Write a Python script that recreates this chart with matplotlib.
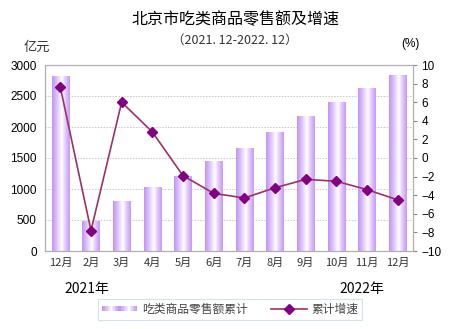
import numpy as np
import matplotlib
matplotlib.use("Agg")
import matplotlib.pyplot as plt
from matplotlib.colors import LinearSegmentedColormap
from matplotlib.patches import Rectangle
from matplotlib.lines import Line2D
from matplotlib.legend_handler import HandlerBase

plt.rcParams['font.family'] = ['Noto Sans CJK SC', 'DejaVu Sans']

categories = ["12月", "2月", "3月", "4月", "5月", "6月", "7月", "8月", "9月", "10月", "11月", "12月"]
sales = [2815, 475, 795, 1020, 1200, 1440, 1655, 1905, 2165, 2400, 2615, 2828]
growth = [7.6, -7.8, 6.0, 2.8, -1.9, -3.8, -4.3, -3.2, -2.3, -2.5, -3.4, -4.5]
left_ticks = [0, 500, 1000, 1500, 2000, 2500, 3000]
right_ticks = [-10, -8, -6, -4, -2, 0, 2, 4, 6, 8, 10]

W, H = 470, 329
fig = plt.figure(figsize=(W / 100, H / 100), dpi=100)
ax = fig.add_axes([45 / W, 1 - 251 / H, (413 - 45) / W, (251 - 65) / H])
ax2 = ax.twinx()

cmap = LinearSegmentedColormap.from_list(
    "bar", [(0, "#c095f2"), (0.25, "#dcc0fa"), (0.55, "#ffffff"), (0.8, "#dcc0fa"), (1, "#c59bf3")])
grad = np.linspace(0, 1, 64).reshape(1, -1)
x = np.arange(len(categories))
bw = 0.57
for xi, v in zip(x, sales):
    ax.imshow(grad, cmap=cmap, aspect="auto", extent=[xi - bw / 2, xi + bw / 2, 0, v],
              zorder=2, interpolation="bilinear")

ax.set_xlim(-0.5, len(categories) - 0.5)
ax.set_ylim(0, 3000)
ax.set_yticks(left_ticks)
ax.set_xticks(x)
ax.set_xticklabels(categories, fontsize=8, color="#333333")
ax.tick_params(axis="x", length=0, pad=5)
ax.tick_params(axis="y", length=0, pad=6)
for lab in ax.get_yticklabels():
    lab.set_fontfamily("Liberation Sans")
    lab.set_fontsize(8.5)
ax.yaxis.grid(True, linestyle=(0, (1.5, 1.5)), color="#c8c8c8", linewidth=0.7, zorder=0)
ax.set_axisbelow(True)
for s in ax.spines.values():
    s.set_color("#b0b0b0")
    s.set_linewidth(0.8)

ax2.plot(x, growth, color="#993366", linewidth=1.2, marker="D", markersize=5.5,
         markerfacecolor="#800080", markeredgecolor="#800080", zorder=5)
ax2.set_ylim(-10, 10)
ax2.set_yticks(right_ticks)
ax2.tick_params(axis="y", length=3, direction="out", color="#888888", pad=3)
for lab in ax2.get_yticklabels():
    lab.set_fontfamily("Liberation Sans")
    lab.set_fontsize(8.5)
for s in ax2.spines.values():
    s.set_color("#b0b0b0")
    s.set_linewidth(0.8)

fig.text(0.5, 1 - 20 / H, "北京市吃类商品零售额及增速", ha="center", va="center", fontsize=11.5)
fig.text(0.5, 1 - 40 / H, "（2021. 12-2022. 12）", ha="center", va="center", fontsize=9, color="#333333")
fig.text(37 / W, 1 - 47 / H, "亿元", ha="center", va="center", fontsize=9.5, color="#333333")
fig.text(410 / W, 1 - 44 / H, "(%)", ha="center", va="center", fontsize=8.5, family="Liberation Sans")
fig.text(87 / W, 1 - 289 / H, "2021年", ha="center", va="center", fontsize=10)
fig.text(362 / W, 1 - 289 / H, "2022年", ha="center", va="center", fontsize=10)


class GradHandler(HandlerBase):
    def create_artists(self, legend, orig, xd, yd, width, height, fontsize, trans):
        arts = []
        n = 24
        for i in range(n):
            c = cmap((i % 12) / 11)
            r = Rectangle((xd + i * width / n, yd + height * 0.2), width / n, height * 0.6,
                          facecolor=c, edgecolor="none", transform=trans)
            arts.append(r)
        return arts


bar_proxy = Rectangle((0, 0), 1, 1)
line_proxy = Line2D([], [], color="#993366", linewidth=1.2, marker="D", markersize=5,
                    markerfacecolor="#800080", markeredgecolor="#800080")
leg = fig.legend([bar_proxy, line_proxy], ["吃类商品零售额累计", "累计增速"],
                 loc="center", bbox_to_anchor=(230 / W, 1 - 309.5 / H), ncol=2,
                 fontsize=8.5, frameon=True, fancybox=False, handlelength=3,
                 handler_map={Rectangle: GradHandler()}, columnspacing=2.0,
                 borderpad=0.35, handletextpad=0.4)
leg.get_frame().set_edgecolor("#c5dcea")
leg.get_frame().set_linewidth(0.8)
for t in leg.get_texts():
    t.set_color("#444444")

fig.savefig("out.png", dpi=100)
